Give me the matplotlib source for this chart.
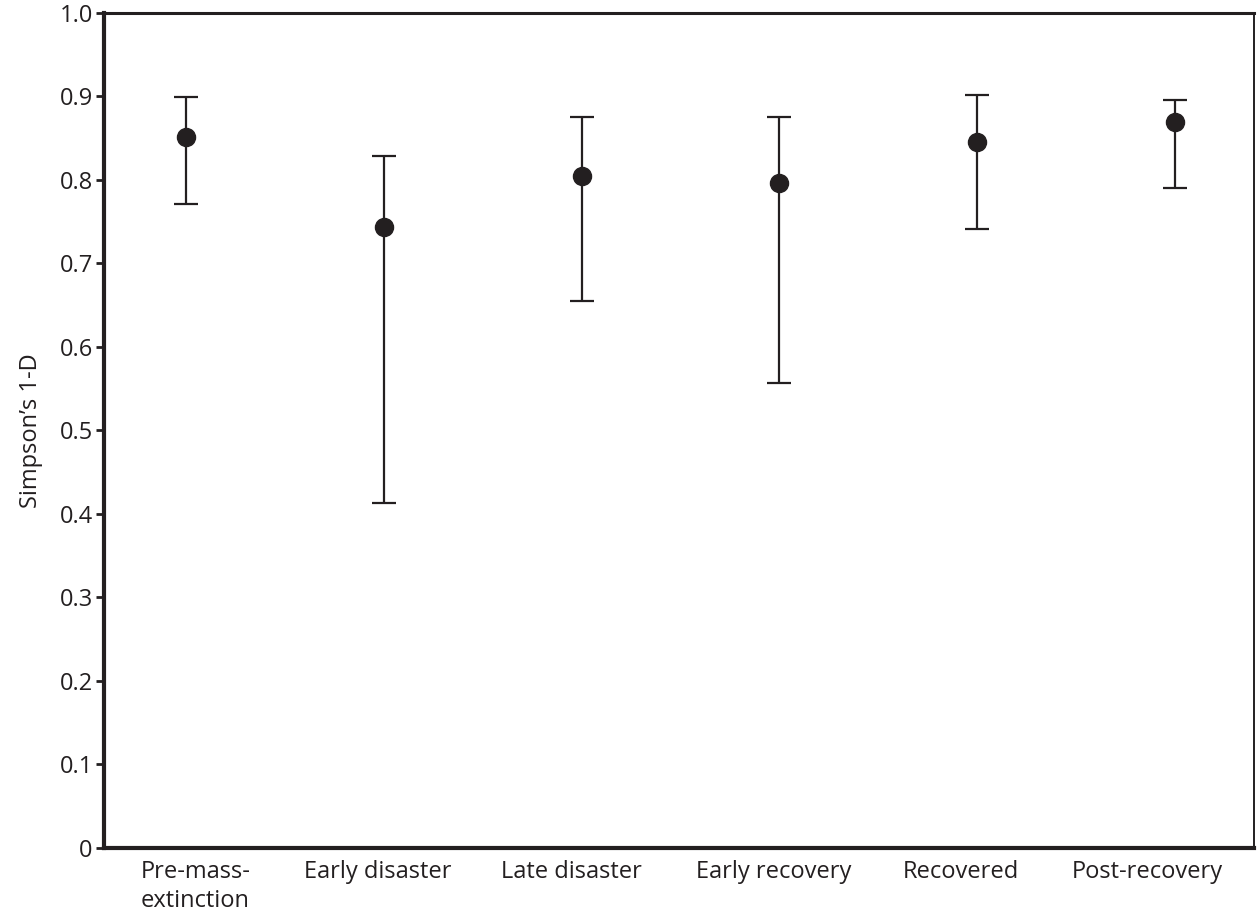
import numpy as np
import matplotlib
matplotlib.use("Agg")
import matplotlib.pyplot as plt

plt.rcParams['font.family'] = ['Open Sans', 'DejaVu Sans']

categories = ["Pre-mass-\nextinction", "Early disaster", "Late disaster",
              "Early recovery", "Recovered", "Post-recovery"]
mean = [0.851, 0.744, 0.805, 0.796, 0.846, 0.869]
upper = [0.899, 0.829, 0.875, 0.875, 0.902, 0.896]
lower = [0.771, 0.413, 0.655, 0.557, 0.741, 0.790]
yticks = [0, 0.1, 0.2, 0.3, 0.4, 0.5, 0.6, 0.7, 0.8, 0.9, 1.0]
yticklabels = ["0", "0.1", "0.2", "0.3", "0.4", "0.5", "0.6", "0.7", "0.8", "0.9", "1.0"]

ink = "#231f20"
x = np.arange(len(categories))
# labels in the original sit a little off their points
label_shift = np.array([0.05, -0.03, -0.05, -0.03, -0.08, -0.14])
mean = np.array(mean)
err = [mean - np.array(lower), np.array(upper) - mean]

fig = plt.figure(figsize=(12.57, 9.21), dpi=100)
ax = fig.add_axes([0.0827, 0.0793, 0.9149, 0.9066])

ax.errorbar(x, mean, yerr=err, fmt='o', color=ink, ecolor=ink,
            markersize=13, elinewidth=1.6, capsize=8.5, capthick=1.6)

ax.set_xlim(-0.415, 5.40)
ax.set_ylim(0, 1.0)
ax.set_xticks(x + label_shift)
ax.set_xticklabels(categories, fontsize=17, color=ink, va='top', linespacing=1.25)
ax.tick_params(axis='x', length=0, pad=9)
ax.set_yticks(yticks)
ax.set_yticklabels(yticklabels, fontsize=17, color=ink)
ax.tick_params(axis='y', length=6, width=2, color=ink, pad=2)
for lbl in ax.get_xticklabels():
    lbl.set_multialignment('left')
ax.set_ylabel("Simpson\u2019s 1-D", fontsize=17, color=ink, labelpad=12)

ax.spines['left'].set_linewidth(3)
ax.spines['bottom'].set_linewidth(3)
ax.spines['top'].set_linewidth(2.2)
ax.spines['right'].set_linewidth(1.4)
for s in ax.spines.values():
    s.set_color(ink)

fig.savefig("out.png", dpi=100)
